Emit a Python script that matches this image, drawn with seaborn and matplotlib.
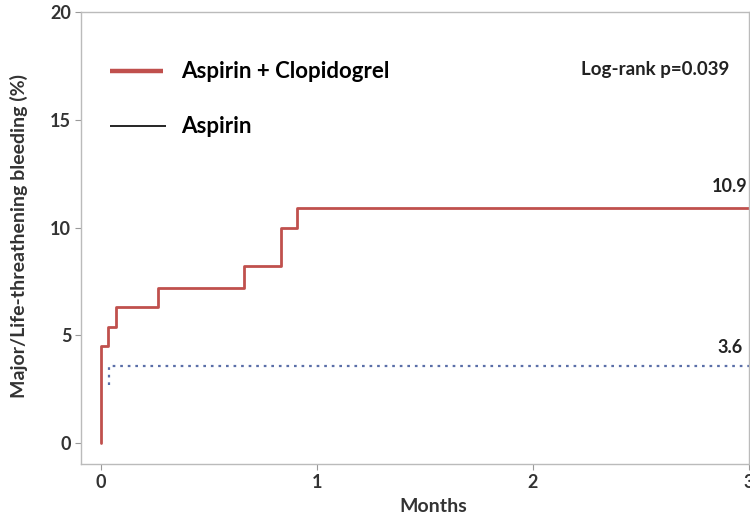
import matplotlib
matplotlib.use("Agg")
import matplotlib.pyplot as plt
import seaborn as sns
import pandas as pd

# Cumulative incidence step curves (months, %)
combo_months = [0.0, 0.0, 0.034, 0.068, 0.263, 0.664, 0.836, 0.906, 3.0]
combo_pct = [0.0, 4.5, 5.4, 6.3, 7.2, 8.2, 10.0, 10.9, 10.9]
aspirin_months = [0.037, 0.037, 3.0]
aspirin_pct = [2.7, 3.6, 3.6]

combo_label = "Aspirin + Clopidogrel"
aspirin_label = "Aspirin"
final_combo = 10.9
final_aspirin = 3.6
pvalue_text = "Log-rank p=0.039"

x_ticks = [0, 1, 2, 3]
y_ticks = [0, 5, 10, 15, 20]

sns.set_theme(style="white")
plt.rcParams["font.family"] = ["Lato", "DejaVu Sans"]

df = pd.concat([
    pd.DataFrame({"months": combo_months, "pct": combo_pct, "group": combo_label}),
    pd.DataFrame({"months": aspirin_months, "pct": aspirin_pct, "group": aspirin_label}),
], ignore_index=True)

fig = plt.figure(figsize=(7.5, 5.22), dpi=100)
ax = fig.add_axes([0.108, 0.111, 0.890, 0.866])

red = "#c0504d"
blue = "#5a6ea8"

sns.lineplot(data=df[df.group == combo_label], x="months", y="pct", ax=ax,
             drawstyle="steps-post", color=red, linewidth=2.0, estimator=None,
             sort=False, legend=False)
sns.lineplot(data=df[df.group == aspirin_label], x="months", y="pct", ax=ax,
             drawstyle="steps-post", color=blue, linewidth=1.6, estimator=None,
             sort=False, legend=False, linestyle=(0, (1.2, 2.2)))

ax.set_xlim(-0.093, 3.0)
ax.set_ylim(-0.97, 20.0)
ax.set_xticks(x_ticks)
ax.set_yticks(y_ticks)
ax.tick_params(axis="both", which="major", direction="out", length=4, width=0.8,
               color="#999999", labelsize=13, labelcolor="#333333", bottom=True, left=True, pad=3)
for lab in ax.get_xticklabels() + ax.get_yticklabels():
    lab.set_fontweight("bold")
for sp in ax.spines.values():
    sp.set_color("#bbbbbb")
    sp.set_linewidth(1.0)

ax.set_xlabel("Months", fontsize=14, fontweight="bold", color="#333333")
ax.xaxis.set_label_coords(0.528, -0.075)
ax.set_ylabel("Major/Life-threathening bleeding (%)", fontsize=14, fontweight="bold",
              color="#333333")
ax.yaxis.set_label_coords(-0.08, 0.505)

# Legend drawn as short line samples with labels
ax.plot([0.04, 0.285], [17.25, 17.25], color=red, linewidth=3.2, solid_capstyle="butt")
ax.text(0.37, 17.25, combo_label, fontsize=16, fontweight="bold", color="black", va="center")
ax.plot([0.04, 0.30], [14.7, 14.7], color="black", linewidth=1.2, solid_capstyle="butt")
ax.text(0.37, 14.7, aspirin_label, fontsize=16, fontweight="bold", color="black", va="center")

ax.text(2.91, 17.35, pvalue_text, fontsize=13.5, fontweight="bold", color="#222222",
        ha="right", va="center")
ax.text(2.995, final_combo + 0.6, f"{final_combo}", fontsize=13, fontweight="bold",
        color="#222222", ha="right", va="bottom")
ax.text(2.975, final_aspirin + 0.45, f"{final_aspirin}", fontsize=13, fontweight="bold",
        color="#222222", ha="right", va="bottom")

fig.savefig("out.png", dpi=100)
